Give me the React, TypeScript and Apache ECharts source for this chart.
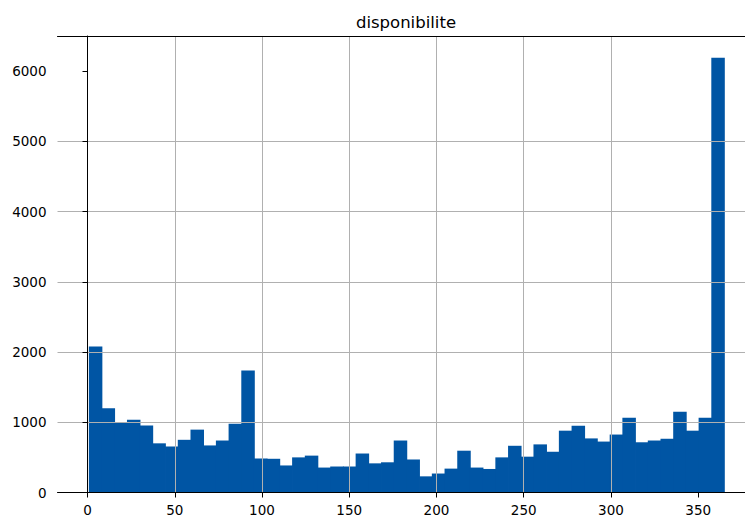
import React, { useEffect, useRef } from "react";
import * as echarts from "echarts";

const title = "disponibilite";
const dataMin = 1;
const dataMax = 365;
const counts = [
  2080, 1200, 1000, 1035, 955, 700, 655, 750, 895, 670,
  740, 980, 1735, 485, 480, 385, 500, 525, 355, 370,
  370, 555, 415, 430, 740, 470, 230, 270, 340, 595,
  355, 335, 500, 665, 510, 685, 580, 880, 950, 770,
  725, 825, 1065, 715, 740, 765, 1150, 880, 1065, 6189,
];
const xTicks = [0, 50, 100, 150, 200, 250, 300, 350];
const yTicks = [0, 1000, 2000, 3000, 4000, 5000, 6000];

const BAR_COLOR = "#0055a4";
const GRID_COLOR = "#b0b0b0";
const FONT = "DejaVu Sans";

export default function App() {
  const ref = useRef<HTMLDivElement>(null);
  useEffect(() => {
    if (!ref.current) return;
    const chart = echarts.init(ref.current, null, { renderer: "svg" });
    const binW = (dataMax - dataMin) / counts.length;
    const data = counts.map((c, i) => [dataMin + i * binW, dataMin + (i + 1) * binW, c]);
    const xMin = dataMin - 0.05 * (dataMax - dataMin);
    const xMax = 376.8;
    const yMax = Math.max(...counts) * 1.05;
    const fmt = (v: number) => String(Math.round(v));
    chart.setOption({
      animation: false,
      title: {
        text: title,
        left: 401,
        textAlign: "center",
        top: 9,
        textStyle: { fontFamily: FONT, fontSize: 16.5, fontWeight: "normal", color: "#000" },
      },
      grid: { left: 57.5, right: 0, top: 36, bottom: 18.7, containLabel: false },
      xAxis: [
        {
          type: "value",
          min: xMin,
          max: xMax,
          minInterval: 50,
          maxInterval: 50,
          z: 3,
          axisLine: { show: true, lineStyle: { color: "#000", width: 1 } },
          axisTick: { show: true, length: 5, customValues: xTicks, lineStyle: { color: "#000", width: 1 } },
          axisLabel: {
            customValues: xTicks,
            formatter: fmt,
            margin: 10.5,
            fontFamily: FONT,
            fontSize: 13.5,
            color: "#000",
          },
          splitLine: { show: true, showMinLine: false, showMaxLine: false, lineStyle: { color: GRID_COLOR, width: 1 } },
        },
        {
          type: "value",
          position: "top",
          min: xMin,
          max: xMax,
          z: 3,
          axisLine: { show: true, onZero: false, lineStyle: { color: "#000", width: 1 } },
          axisTick: { show: false },
          axisLabel: { show: false },
          splitLine: { show: false },
        },
      ],
      yAxis: {
        type: "value",
        min: 0,
        max: yMax,
        minInterval: 1000,
        maxInterval: 1000,
        z: 3,
        axisLine: { show: true, lineStyle: { color: "#000", width: 1 } },
        axisTick: { show: true, length: 5, customValues: yTicks, lineStyle: { color: "#000", width: 1 } },
        axisLabel: {
          customValues: yTicks,
          formatter: fmt,
          margin: 11,
          fontFamily: FONT,
          fontSize: 13.5,
          color: "#000",
        },
        splitLine: { show: true, showMinLine: false, showMaxLine: false, lineStyle: { color: GRID_COLOR, width: 1 } },
      },
      series: [
        {
          type: "custom",
          z: 2,
          xAxisIndex: 0,
          data,
          encode: { x: [0, 1], y: 2 },
          renderItem: (params: any, api: any) => {
            const p0 = api.coord([api.value(0), api.value(2)]);
            const p1 = api.coord([api.value(1), 0]);
            return {
              type: "rect",
              shape: { x: p0[0] - 0.4, y: p0[1], width: p1[0] - p0[0] + 0.8, height: p1[1] - p0[1] },
              style: { fill: BAR_COLOR },
            };
          },
        },
      ],
    });
    return () => chart.dispose();
  }, []);
  return (
    <div
      ref={ref}
      style={{ position: "absolute", left: 0, top: 0, width: 745, height: 517, background: "#fff" }}
    />
  );
}
